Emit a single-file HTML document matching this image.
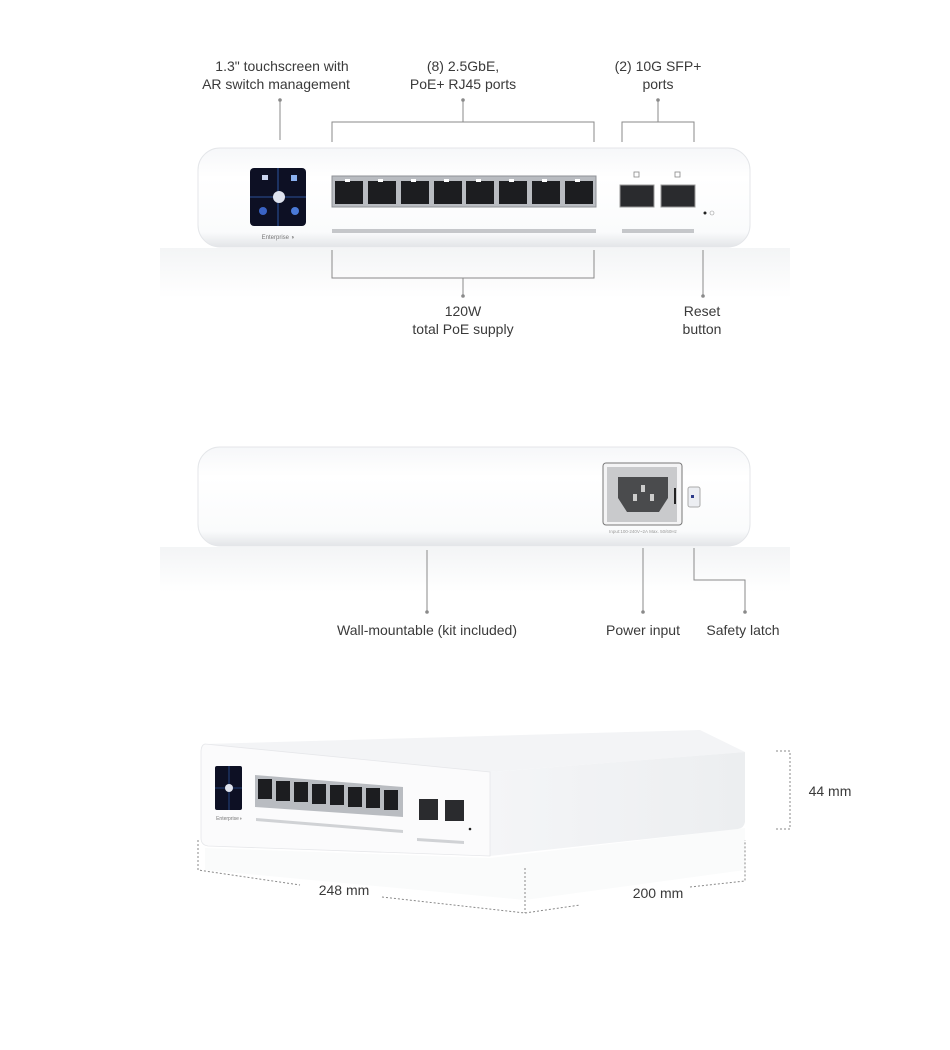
<!DOCTYPE html>
<html><head><meta charset="utf-8"><style>
html,body{margin:0;padding:0;background:#fff;}
svg{display:block}
text{font-family:"Liberation Sans",sans-serif;fill:#3a3a3a;font-size:14px}
</style></head><body>
<svg width="950" height="1050" viewBox="0 0 950 1050" xmlns="http://www.w3.org/2000/svg">
<defs>
<linearGradient id="body" x1="0" y1="0" x2="0" y2="1">
<stop offset="0" stop-color="#f6f7f9"/><stop offset="0.3" stop-color="#ffffff"/><stop offset="0.85" stop-color="#fafbfc"/><stop offset="1" stop-color="#e3e5e8"/></linearGradient>
<linearGradient id="refl" x1="0" y1="0" x2="0" y2="1">
<stop offset="0" stop-color="#eef0f2"/><stop offset="1" stop-color="#ffffff"/></linearGradient>
<linearGradient id="side" x1="0" y1="0" x2="1" y2="0">
<stop offset="0" stop-color="#f4f5f7"/><stop offset="1" stop-color="#eceef0"/></linearGradient>
</defs>
<!-- reflections first -->
<rect x="160" y="248" width="630" height="50" fill="url(#refl)" opacity="0.7"/>
<rect x="160" y="547" width="630" height="45" fill="url(#refl)" opacity="0.7"/>
<polygon points="205,848 490,858 745,828 745,870 525,900 205,870" fill="#fafbfb"/>

<g stroke="#8a8a8a" stroke-width="1" fill="none">
<line x1="280" y1="100" x2="280" y2="140"/>
<path d="M332 142 V122 H594 V142 M463 122 V100"/>
<path d="M622 142 V122 H694 V142 M658 122 V100"/>
<path d="M332 250 V278 H594 V250 M463 278 V296"/>
<line x1="703" y1="250" x2="703" y2="296"/>
<line x1="427" y1="550" x2="427" y2="612"/>
<line x1="643" y1="548" x2="643" y2="612"/>
<path d="M694 548 V580 H745 V612"/>
</g>
<g fill="#8a8a8a">
<circle cx="280" cy="100" r="1.8"/><circle cx="463" cy="100" r="1.8"/><circle cx="658" cy="100" r="1.8"/>
<circle cx="463" cy="296" r="1.8"/><circle cx="703" cy="296" r="1.8"/>
<circle cx="427" cy="612" r="1.8"/><circle cx="643" cy="612" r="1.8"/><circle cx="745" cy="612" r="1.8"/>
</g>
<g text-anchor="middle">
<text x="282" y="71">1.3" touchscreen with</text><text x="276" y="89">AR switch management</text>
<text x="463" y="71">(8) 2.5GbE,</text><text x="463" y="89">PoE+ RJ45 ports</text>
<text x="658" y="71">(2) 10G SFP+</text><text x="658" y="89">ports</text>
<text x="463" y="316">120W</text><text x="463" y="334">total PoE supply</text>
<text x="702" y="316">Reset</text><text x="702" y="334">button</text>
<text x="427" y="635">Wall-mountable (kit included)</text>
<text x="643" y="635">Power input</text>
<text x="743" y="635">Safety latch</text>
<text x="344" y="895">248 mm</text>
<text x="658" y="898">200 mm</text>
<text x="830" y="796">44 mm</text>
</g>

<!-- TOP DEVICE -->
<rect x="198" y="148" width="552" height="99" rx="22" fill="url(#body)" stroke="#e4e6e9"/>
<rect x="250" y="168" width="56" height="58" rx="4" fill="#0d1024"/>
<g stroke="#3566c0" stroke-width="0.8"><line x1="250" y1="197" x2="306" y2="197"/><line x1="278" y1="168" x2="278" y2="226"/></g>
<circle cx="279" cy="197" r="6" fill="#dfe3ee"/>
<rect x="262" y="175" width="6" height="5" fill="#c9d4ee"/><rect x="291" y="175" width="6" height="6" fill="#8ab0f0"/>
<circle cx="263" cy="211" r="4" fill="#3a63c4"/><circle cx="295" cy="211" r="4" fill="#4a7ad8"/>
<text x="278" y="239" text-anchor="middle" style="font-size:6px;fill:#777">Enterprise ◑</text>
<rect x="332" y="176" width="264" height="31" fill="#b9bcc1" stroke="#8f9297"/>
<g fill="#1c1d20">
<rect x="335" y="181" width="28" height="23"/><rect x="368" y="181" width="28" height="23"/><rect x="401" y="181" width="28" height="23"/><rect x="434" y="181" width="28" height="23"/><rect x="466" y="181" width="28" height="23"/><rect x="499" y="181" width="28" height="23"/><rect x="532" y="181" width="28" height="23"/><rect x="565" y="181" width="28" height="23"/>
</g>
<g fill="#fff"><rect x="345" y="179" width="5" height="3"/><rect x="378" y="179" width="5" height="3"/><rect x="411" y="179" width="5" height="3"/><rect x="444" y="179" width="5" height="3"/><rect x="476" y="179" width="5" height="3"/><rect x="509" y="179" width="5" height="3"/><rect x="542" y="179" width="5" height="3"/><rect x="575" y="179" width="5" height="3"/></g>
<rect x="620" y="185" width="34" height="22" fill="#2a2b2e" stroke="#999"/>
<rect x="661" y="185" width="34" height="22" fill="#2a2b2e" stroke="#999"/>
<rect x="634" y="172" width="5" height="5" fill="none" stroke="#888" stroke-width="0.8"/>
<rect x="675" y="172" width="5" height="5" fill="none" stroke="#888" stroke-width="0.8"/>
<circle cx="705" cy="213" r="1.5" fill="#222"/><circle cx="712" cy="213" r="2" fill="none" stroke="#999" stroke-width="0.6"/>
<rect x="332" y="229" width="264" height="4" fill="#c5c7ca"/>
<rect x="622" y="229" width="72" height="4" fill="#c5c7ca"/>

<!-- MIDDLE DEVICE -->
<rect x="198" y="447" width="552" height="99" rx="22" fill="url(#body)" stroke="#e4e6e9"/>
<rect x="603" y="463" width="79" height="62" rx="3" fill="#f4f4f5" stroke="#777"/>
<rect x="607" y="467" width="70" height="55" fill="#c9cacc"/>
<path d="M618 477 H668 V498 L659 512 H627 L618 498 Z" fill="#4a4b4d"/>
<rect x="633" y="494" width="4" height="7" fill="#ccc"/><rect x="641" y="485" width="4" height="7" fill="#ccc"/><rect x="650" y="494" width="4" height="7" fill="#ccc"/>
<rect x="674" y="488" width="2" height="16" fill="#222"/>
<rect x="688" y="487" width="12" height="20" rx="2" fill="#eceef2" stroke="#aaa"/>
<rect x="691" y="495" width="3" height="3" fill="#2e3c8a"/>
<text x="643" y="533" text-anchor="middle" style="font-size:4.5px;fill:#999">Input:100-240V~2A Max. 50/60Hz</text>

<!-- BOTTOM DEVICE -->
<polygon points="205,744 700,730 745,752 490,772" fill="#f3f4f6"/>
<path d="M490 772 L745 752 L745 822 Q744 828 738 829 L490 856 Z" fill="url(#side)"/>
<path d="M205 744 L490 772 L490 856 L208 846 Q201 845 201 838 L201 752 Q201 745 205 744 Z" fill="#fbfbfc" stroke="#e6e7ea" stroke-width="0.8"/>
<rect x="215" y="766" width="27" height="44" rx="2" fill="#0d1024"/>
<g stroke="#3566c0" stroke-width="0.6"><line x1="215" y1="788" x2="242" y2="788"/><line x1="229" y1="766" x2="229" y2="810"/></g>
<circle cx="229" cy="788" r="4" fill="#dfe3ee"/>
<text x="229" y="820" text-anchor="middle" style="font-size:5px;fill:#777">Enterprise◑</text>
<polygon points="255,775 403,787 403,817 255,807" fill="#b9bcc1"/>
<g fill="#1c1d20">
<rect x="258" y="779" width="14" height="20"/><rect x="276" y="781" width="14" height="20"/><rect x="294" y="782" width="14" height="20"/><rect x="312" y="784" width="14" height="20"/><rect x="330" y="785" width="14" height="20"/><rect x="348" y="787" width="14" height="20"/><rect x="366" y="788" width="14" height="20"/><rect x="384" y="790" width="14" height="20"/>
</g>
<rect x="419" y="799" width="19" height="21" fill="#2a2b2e"/>
<rect x="445" y="800" width="19" height="21" fill="#2a2b2e"/>
<polygon points="256,818 403,830 403,833 256,821" fill="#d0d2d5"/>
<polygon points="417,838 464,841 464,844 417,841" fill="#d0d2d5"/>
<circle cx="470" cy="829" r="1.3" fill="#222"/>
<g stroke="#8a8a8a" stroke-width="1" fill="none" stroke-dasharray="2,2">
<path d="M776 751 H790 V829 H776"/>
<path d="M198 840 V870 L300 885"/>
<path d="M382 897 L525 913 L580 905"/>
<line x1="525" y1="868" x2="525" y2="913"/>
<path d="M690 887 L745 881 V840"/>
</g>
</svg>
</body></html>
